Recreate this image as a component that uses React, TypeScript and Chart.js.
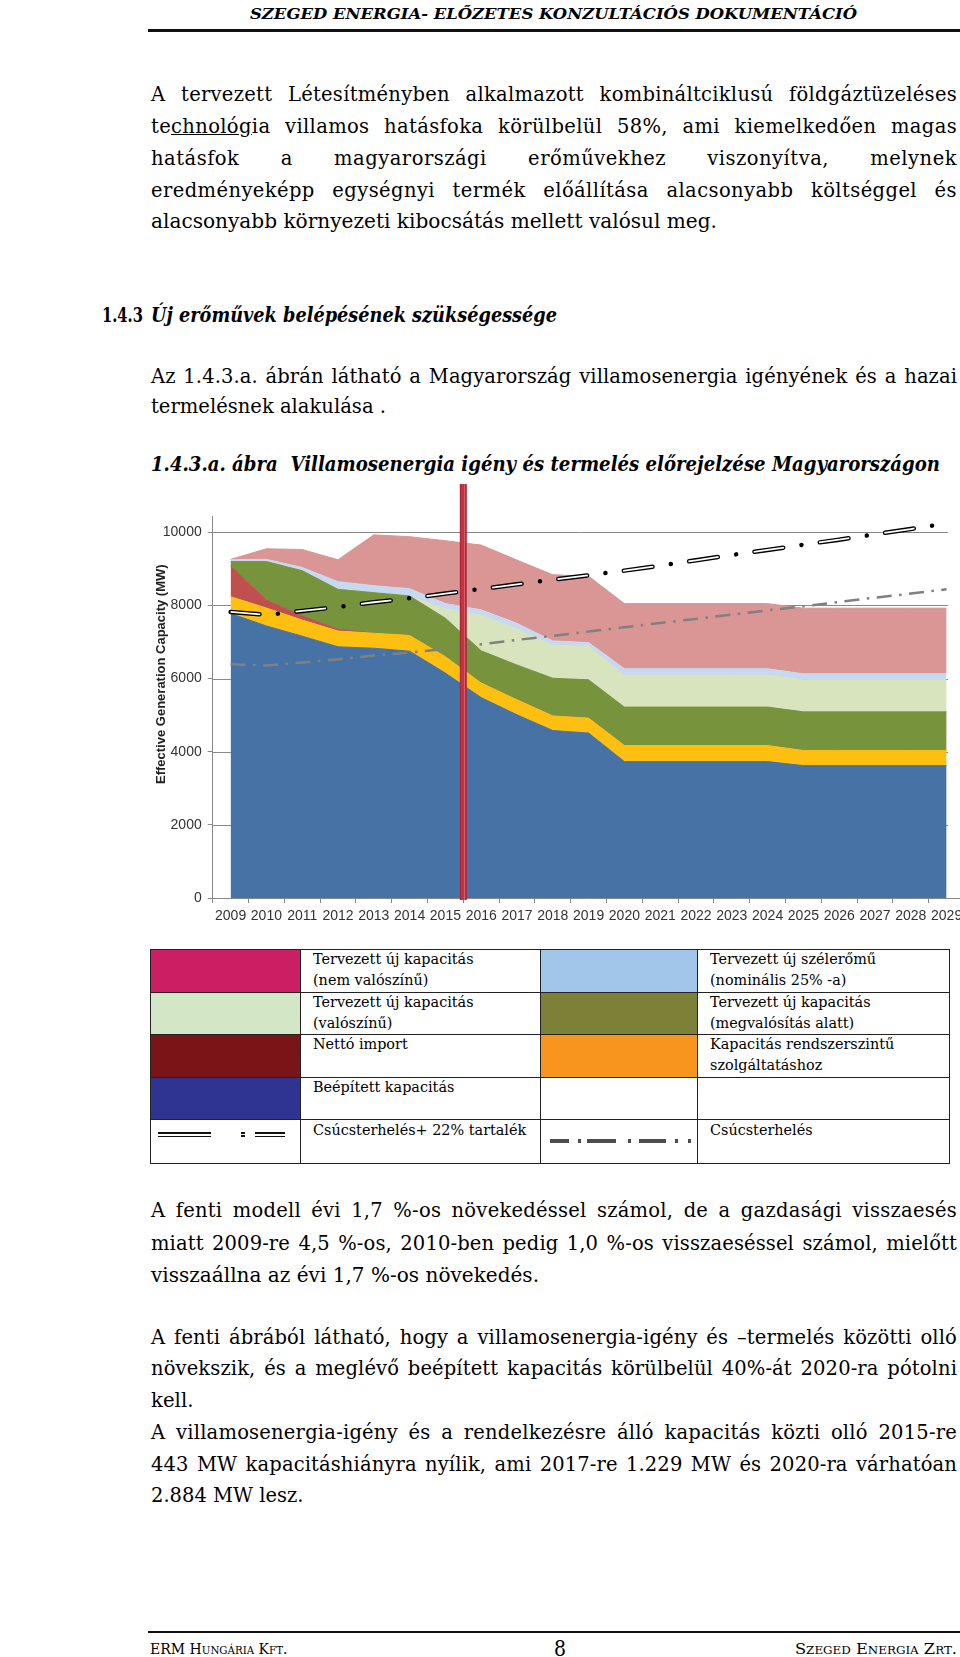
import React, { useEffect, useLayoutEffect, useRef } from 'react';
import { Chart, registerables } from 'chart.js';

Chart.register(...registerables);

const SERIF = '"DejaVu Serif", serif';
const SANS = '"Liberation Sans", Arial, sans-serif';

// ---------- chart data ----------
const years = ['2009', '2010', '2011', '2012', '2013', '2014', '2015', '2016', '2017', '2018', '2019',
  '2020', '2021', '2022', '2023', '2024', '2025', '2026', '2027', '2028', '2029'];
const yTicks = [0, 2000, 4000, 6000, 8000, 10000];
const installedCapacity = [7780, 7440, 7160, 6870, 6830, 6750, 6150, 5480, 5010, 4580, 4510, 3730, 3730, 3730, 3730, 3730, 3620, 3620, 3620, 3620, 3620];
const systemServices = [460, 490, 440, 430, 410, 430, 450, 400, 410, 400, 410, 440, 440, 440, 440, 440, 415, 415, 415, 415, 415];
const netImport = [840, 220, 110, 50, 0, 0, 0, 0, 0, 0, 0, 0, 0, 0, 0, 0, 0, 0, 0, 0, 0];
const underConstruction = [120, 1050, 1240, 1090, 1110, 1080, 1050, 880, 950, 1030, 1045, 1050, 1050, 1050, 1050, 1050, 1055, 1055, 1055, 1055, 1055];
const plannedProbable = [0, 0, 0, 0, 0, 0, 250, 980, 980, 900, 915, 870, 870, 870, 870, 870, 875, 875, 875, 875, 875];
const plannedWind = [50, 60, 90, 210, 190, 200, 150, 140, 160, 120, 105, 180, 180, 180, 180, 180, 165, 165, 165, 165, 165];
const plannedUnlikely = [10, 290, 490, 600, 1390, 1420, 1720, 1770, 1730, 1810, 1815, 1780, 1780, 1780, 1780, 1780, 1795, 1795, 1795, 1795, 1795];
const peakPlusReserve = [7823, 7741, 7850, 7959, 8087, 8196, 8324, 8451, 8579, 8706, 8825, 8952, 9089, 9234, 9380, 9517, 9663, 9799, 9945, 10090, 10245];
const peakLoad = [6393, 6357, 6439, 6530, 6630, 6712, 6812, 6939, 7058, 7167, 7286, 7404, 7522, 7632, 7750, 7868, 7978, 8096, 8214, 8324, 8442];
const yAxisTitle = 'Effective Generation Capacity (MW)';

function CapacityChart() {
  const ref = useRef<HTMLCanvasElement>(null);
  useEffect(() => {
    const canvas = ref.current;
    if (!canvas) return;
    const areas = [
      { label: 'Beépített kapacitás', data: installedCapacity, color: '#4672A6' },
      { label: 'Kapacitás rendszerszintű szolgáltatáshoz', data: systemServices, color: '#FDC010' },
      { label: 'Nettó import', data: netImport, color: '#C0504D' },
      { label: 'Tervezett új kapacitás (megvalósítás alatt)', data: underConstruction, color: '#77933C' },
      { label: 'Tervezett új kapacitás (valószínű)', data: plannedProbable, color: '#D7E4BD' },
      { label: 'Tervezett új szélerőmű', data: plannedWind, color: '#C6D9F0' },
      { label: 'Tervezett új kapacitás (nem valószínű)', data: plannedUnlikely, color: '#D99694' },
    ];
    const datasets: any[] = areas.map((a, i) => ({
      label: a.label,
      data: a.data,
      backgroundColor: a.color,
      borderColor: a.color,
      borderWidth: 1,
      fill: i === 0 ? 'origin' : '-1',
      pointRadius: 0,
      tension: 0,
      stack: 'capacity',
      order: 10,
    }));
    datasets.push({
      label: 'Csúcsterhelés+ 22% tartalék',
      data: peakPlusReserve,
      borderColor: '#000000',
      borderWidth: 4.5,
      borderDash: [29, 18.5, 0.01, 18.5],
      borderCapStyle: 'round',
      fill: false,
      pointRadius: 0,
      stack: 'reserve',
      order: 2,
    });
    datasets.push({
      label: 'Csúcsterhelés+ 22% tartalék (belső)',
      data: peakPlusReserve,
      borderColor: '#ffffff',
      borderWidth: 1.8,
      borderDash: [30.6, 35.41],
      borderDashOffset: 0.8,
      borderCapStyle: 'butt',
      fill: false,
      pointRadius: 0,
      stack: 'reserveInner',
      order: 1,
    });
    datasets.push({
      label: 'Csúcsterhelés',
      data: peakLoad,
      borderColor: '#808080',
      borderWidth: 2.5,
      borderDash: [15, 7.5, 2.5, 7.5],
      borderCapStyle: 'butt',
      fill: false,
      pointRadius: 0,
      stack: 'peak',
      order: 3,
    });

    const overlay = {
      id: 'overlay',
      beforeDatasetsDraw(chart: any) {
        const { ctx, chartArea, scales } = chart;
        const xEnd = scales.x.getPixelForValue(years.length - 1) + 1.5;
        ctx.save();
        ctx.strokeStyle = '#888888';
        ctx.lineWidth = 1;
        scales.y.ticks.forEach((t: any) => {
          if (t.value === 0) return;
          const yy = Math.round(scales.y.getPixelForValue(t.value)) + 0.5;
          ctx.beginPath();
          ctx.moveTo(chartArea.left, yy);
          ctx.lineTo(xEnd, yy);
          ctx.stroke();
        });
        ctx.restore();
      },
      afterDatasetsDraw(chart: any) {
        const { ctx, chartArea, scales } = chart;
        const xm = scales.x.getPixelForValue(6.5);
        const top = chartArea.top - 32;
        const h = chartArea.bottom + 2 - top;
        ctx.save();
        ctx.fillStyle = '#A8283A';
        ctx.fillRect(xm - 3.5, top, 7, h);
        ctx.fillStyle = '#C8323F';
        ctx.fillRect(xm - 2.2, top, 3.6, h);
        ctx.fillStyle = '#DC6A74';
        ctx.fillRect(xm + 0.9, top, 0.9, h);
        ctx.restore();
      },
      afterDraw(chart: any) {
        const { ctx, chartArea, scales } = chart;
        ctx.save();
        ctx.translate(chartArea.left - 51.7, scales.y.getPixelForValue(6120));
        ctx.rotate(-Math.PI / 2);
        ctx.font = 'bold 13px ' + SANS;
        ctx.fillStyle = '#222222';
        ctx.textAlign = 'center';
        ctx.textBaseline = 'middle';
        ctx.fillText(yAxisTitle, 0, 0);
        ctx.restore();
      },
    };

    const chart = new Chart(canvas, {
      type: 'line',
      data: { labels: years, datasets },
      options: {
        responsive: false,
        animation: false,
        devicePixelRatio: 1,
        layout: { padding: { left: 0, right: 5.5, top: 46, bottom: 0 } },
        plugins: { legend: { display: false }, tooltip: { enabled: false } },
        scales: {
          x: {
            offset: true,
            grid: { offset: true, drawOnChartArea: false, drawTicks: true, tickLength: 5, color: '#888888' },
            border: { color: '#888888', width: 1 },
            ticks: {
              autoSkip: false, maxRotation: 0, minRotation: 0, padding: 5,
              color: '#333333', font: { family: SANS, size: 14 },
            },
            afterFit: (s: any) => { s.height = 32; },
          },
          y: {
            stacked: true,
            min: 0,
            max: 10446,
            grid: { color: '#888888', lineWidth: 1, tickLength: 5, drawTicks: true, drawOnChartArea: false },
            border: { color: '#888888', width: 1 },
            ticks: {
              padding: 6,
              color: '#333333',
              font: { family: SANS, size: 14 },
              callback: (v: any) => String(v),
            },
            afterBuildTicks: (s: any) => { s.ticks = yTicks.map((v) => ({ value: v })); },
            afterFit: (s: any) => { s.width = 72.7; },
          },
        },
      } as any,
      plugins: [overlay],
    });
    return () => chart.destroy();
  }, []);
  return (
    <div style={{ position: 'absolute', left: 140, top: 470, width: 830, height: 460 }}>
      <canvas ref={ref} width={830} height={460} style={{ width: 830, height: 460, display: 'block' }} />
    </div>
  );
}

// ---------- text helper ----------
type TxtProps = {
  x: number; base: number; w?: number; justify?: boolean; size?: number;
  bold?: boolean; italic?: boolean; sc?: boolean; color?: string; children: React.ReactNode;
};

function Txt({ x, base, w, justify, size = 19.5, bold, italic, sc, color = '#000', children }: TxtProps) {
  const ref = useRef<HTMLSpanElement>(null);
  const lh = Math.round(size * 1.3);
  useLayoutEffect(() => {
    const el = ref.current;
    if (!el || !w) return;
    el.style.transform = 'none';
    el.style.wordSpacing = '0px';
    el.style.letterSpacing = '0px';
    let nat = el.getBoundingClientRect().width;
    const text = el.textContent || '';
    const spaces = text.split(' ').length - 1;
    if (justify && nat < w && spaces > 0) {
      const ls = Math.min(((w - nat) * 0.3) / text.length, 0.5);
      el.style.letterSpacing = ls + 'px';
      nat = el.getBoundingClientRect().width;
      el.style.wordSpacing = (w - nat) / spaces + 'px';
    } else if (nat > 0) {
      el.style.transform = `scaleX(${w / nat})`;
    }
  }, [w, justify]);
  const asc = 0.928, desc = 0.236;
  const top = base - ((lh - (asc + desc) * size) / 2 + asc * size);
  return (
    <span
      ref={ref}
      style={{
        position: 'absolute', left: x, top, whiteSpace: 'pre', display: 'inline-block',
        fontFamily: SERIF, fontSize: size, lineHeight: lh + 'px',
        fontWeight: bold ? 'bold' : 'normal', fontStyle: italic ? 'italic' : 'normal',
        fontVariant: sc ? 'small-caps' : 'normal', transformOrigin: '0 0', color,
      }}
    >
      {children}
    </span>
  );
}

// ---------- legend table ----------
const colX = [150, 300, 540, 697, 949];
const rowY = [949, 992, 1034, 1077, 1119, 1163];
const legendSwatches = [
  ['#CB1E63', '#A2C6EA'],
  ['#D3E7C6', '#7C8137'],
  ['#7B1416', '#F8951D'],
  ['#2F3391', ''],
  ['', ''],
];
const legendTexts = [
  [['Tervezett új kapacitás', '(nem valószínű)'], ['Tervezett új szélerőmű', '(nominális 25% -a)']],
  [['Tervezett új kapacitás', '(valószínű)'], ['Tervezett új kapacitás', '(megvalósítás alatt)']],
  [['Nettó import'], ['Kapacitás rendszerszintű', 'szolgáltatáshoz']],
  [['Beépített kapacitás'], []],
  [['Csúcsterhelés+ 22% tartalék'], ['Csúcsterhelés']],
];

function LegendTable() {
  const cells: React.ReactNode[] = [];
  for (let r = 0; r < 5; r++) {
    for (let c = 0; c < 4; c++) {
      const bg = c % 2 === 0 ? legendSwatches[r][c / 2] : '';
      cells.push(
        <div key={`c${r}-${c}`} style={{
          position: 'absolute', left: colX[c], top: rowY[r], width: colX[c + 1] - colX[c] + 1,
          height: rowY[r + 1] - rowY[r] + 1, boxSizing: 'border-box', border: '1px solid #222',
          background: bg || 'transparent',
        }} />
      );
      if (c % 2 === 1) {
        const lines = legendTexts[r][(c - 1) / 2];
        const extra = r === 4 ? 1.5 : 0;
        lines.forEach((t, i) => {
          cells.push(
            <Txt key={`t${r}-${c}-${i}`} x={colX[c] + 13} base={rowY[r] + 15.4 + extra + i * 21.5} size={14.4}>{t}</Txt>
          );
        });
      }
    }
  }
  const bar = (l: number, t: number, w: number, h: number, col: string, k: string) => (
    <div key={k} style={{ position: 'absolute', left: l, top: t, width: w, height: h, background: col }} />
  );
  cells.push(bar(158, 1132, 53, 1.6, '#111', 's1'));
  cells.push(bar(158, 1135.6, 53, 1.6, '#111', 's2'));
  cells.push(bar(241, 1131.6, 4, 2, '#111', 's3'));
  cells.push(bar(241, 1135.4, 4, 2, '#111', 's4'));
  cells.push(bar(254.6, 1132, 30, 1.6, '#111', 's5'));
  cells.push(bar(254.6, 1135.6, 30, 1.6, '#111', 's6'));
  const g = '#4D4D4D';
  cells.push(bar(550, 1139, 19, 4, g, 'g1'));
  cells.push(bar(577.5, 1139, 3, 4, g, 'g2'));
  cells.push(bar(587, 1139, 29, 4, g, 'g3'));
  cells.push(bar(627.5, 1139, 3, 4, g, 'g4'));
  cells.push(bar(639, 1139, 27, 4, g, 'g5'));
  cells.push(bar(675, 1139, 3, 4, g, 'g6'));
  cells.push(bar(688, 1139, 3, 4, g, 'g7'));
  return <>{cells}</>;
}

const L = 151;
const W = 806;

export default function App() {
  return (
    <div style={{ position: 'absolute', left: 0, top: 0, width: 960, height: 1657, overflow: 'hidden', background: '#fff' }}>
      {/* header */}
      <Txt x={249.5} base={19.3} w={607} size={15.5} bold italic>SZEGED ENERGIA- ELŐZETES KONZULTÁCIÓS DOKUMENTÁCIÓ</Txt>
      <div style={{ position: 'absolute', left: 148, top: 29.3, width: 812, height: 2.4, background: '#111' }} />

      {/* paragraph 1 */}
      <Txt x={L} base={101} w={W} justify>A tervezett Létesítményben alkalmazott kombináltciklusú földgáztüzeléses</Txt>
      <Txt x={L} base={133} w={W} justify>te<span style={{ textDecoration: 'underline' }}>chnológ</span>ia villamos hatásfoka körülbelül 58%, ami kiemelkedően magas</Txt>
      <Txt x={L} base={165} w={W} justify>hatásfok a magyarországi erőművekhez viszonyítva, melynek</Txt>
      <Txt x={L} base={197} w={W} justify>eredményeképp egységnyi termék előállítása alacsonyabb költséggel és</Txt>
      <Txt x={L} base={228.5} w={566}>alacsonyabb környezeti kibocsátás mellett valósul meg.</Txt>

      {/* heading */}
      <Txt x={101.5} base={322} w={41} bold>1.4.3</Txt>
      <Txt x={L} base={322} w={406} bold italic>Új erőművek belépésének szükségessége</Txt>

      {/* paragraph 2 */}
      <Txt x={L} base={383} w={W} justify>Az 1.4.3.a. ábrán látható a Magyarország villamosenergia igényének és a hazai</Txt>
      <Txt x={L} base={413} w={235}>termelésnek alakulása .</Txt>

      {/* caption */}
      <Txt x={L} base={471} w={789} bold italic>1.4.3.a. ábra  Villamosenergia igény és termelés előrejelzése Magyarországon</Txt>

      <CapacityChart />
      <LegendTable />

      {/* paragraph 3 */}
      <Txt x={L} base={1217.5} w={W} justify>A fenti modell évi 1,7 %-os növekedéssel számol, de a gazdasági visszaesés</Txt>
      <Txt x={L} base={1250} w={W} justify>miatt 2009-re 4,5 %-os, 2010-ben pedig 1,0 %-os visszaeséssel számol, mielőtt</Txt>
      <Txt x={L} base={1282.5} w={388}>visszaállna az évi 1,7 %-os növekedés.</Txt>

      {/* paragraph 4 */}
      <Txt x={L} base={1344} w={W} justify>A fenti ábrából látható, hogy a villamosenergia-igény és –termelés közötti olló</Txt>
      <Txt x={L} base={1375.7} w={W} justify>növekszik, és a meglévő beépített kapacitás körülbelül 40%-át 2020-ra pótolni</Txt>
      <Txt x={L} base={1407.4} w={42.5}>kell.</Txt>
      <Txt x={L} base={1439} w={W} justify>A villamosenergia-igény és a rendelkezésre álló kapacitás közti olló 2015-re</Txt>
      <Txt x={L} base={1470.8} w={W} justify>443 MW kapacitáshiányra nyílik, ami 2017-re 1.229 MW és 2020-ra várhatóan</Txt>
      <Txt x={L} base={1502.5} w={152.4}>2.884 MW lesz.</Txt>

      {/* footer */}
      <div style={{ position: 'absolute', left: 148, top: 1630.7, width: 812, height: 2, background: '#111' }} />
      <Txt x={150} base={1654} w={137.5} size={15} sc>ERM Hungária Kft.</Txt>
      <Txt x={554} base={1656} w={12} size={23}>8</Txt>
      <Txt x={795} base={1654} w={162} size={15} sc>Szeged Energia Zrt.</Txt>
    </div>
  );
}
